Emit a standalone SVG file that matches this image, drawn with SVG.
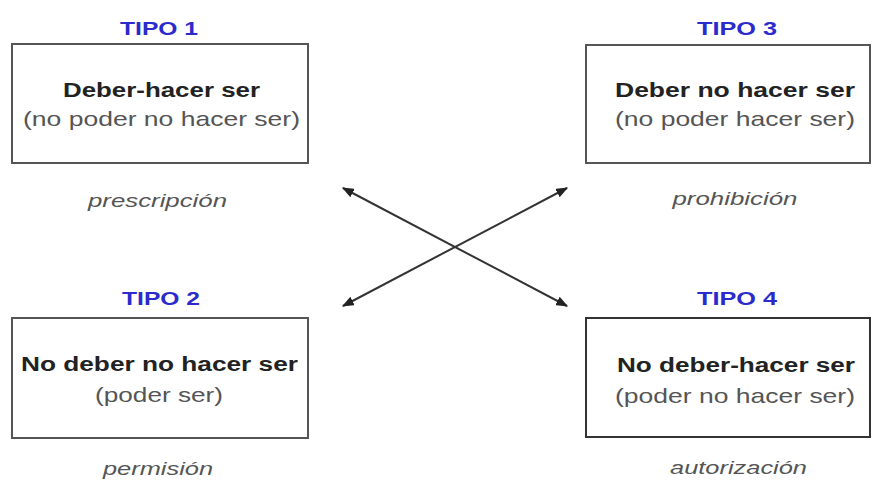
<svg xmlns="http://www.w3.org/2000/svg" width="873" height="483" viewBox="0 0 873 483">
<defs>
<style>
.box{fill:#fff;stroke:#555;stroke-width:2}
.tipo{font-family:"Liberation Sans",Arial,sans-serif;font-weight:bold;font-size:18px;fill:#2b2bcc;text-anchor:middle}
.main{font-family:"Liberation Sans",Arial,sans-serif;font-weight:bold;font-size:20px;fill:#222;text-anchor:middle}
.sub{font-family:"Liberation Sans",Arial,sans-serif;font-size:21px;fill:#555;text-anchor:middle}
.lab{font-family:"Liberation Sans",Arial,sans-serif;font-style:italic;font-size:19px;fill:#555;text-anchor:middle}
.conn{stroke:#333;stroke-width:2;fill:none;marker-start:url(#ah);marker-end:url(#ah)}
</style>
<marker id="ah" viewBox="0 0 10 8" refX="9" refY="4" markerWidth="6" markerHeight="4.8" orient="auto-start-reverse">
<path d="M0,0 L10,4 L0,8 Z" fill="#222"/>
</marker>
</defs>
<rect width="873" height="483" fill="#fff"/>
<g id="tipo1">
<text class="tipo" x="159" y="35" textLength="78" lengthAdjust="spacingAndGlyphs">TIPO 1</text>
<rect class="box" x="12" y="44" width="296" height="119"/>
<text class="main" x="161.5" y="97" textLength="197" lengthAdjust="spacingAndGlyphs">Deber-hacer ser</text>
<text class="sub" x="161.5" y="126" textLength="277" lengthAdjust="spacingAndGlyphs">(no poder no hacer ser)</text>
<text class="lab" x="157.5" y="207" textLength="139" lengthAdjust="spacingAndGlyphs">prescripción</text>
</g>
<g id="tipo3">
<text class="tipo" x="737" y="35" textLength="80" lengthAdjust="spacingAndGlyphs">TIPO 3</text>
<rect class="box" x="586" y="45" width="284" height="118"/>
<text class="main" x="735" y="97" textLength="240" lengthAdjust="spacingAndGlyphs">Deber no hacer ser</text>
<text class="sub" x="735" y="126" textLength="240" lengthAdjust="spacingAndGlyphs">(no poder hacer ser)</text>
<text class="lab" x="735" y="205" textLength="125" lengthAdjust="spacingAndGlyphs">prohibición</text>
</g>
<g id="tipo2">
<text class="tipo" x="161" y="305" textLength="78" lengthAdjust="spacingAndGlyphs">TIPO 2</text>
<rect class="box" x="12" y="318" width="296" height="120"/>
<text class="main" x="159.5" y="371" textLength="277" lengthAdjust="spacingAndGlyphs">No deber no hacer ser</text>
<text class="sub" x="159" y="402" textLength="128" lengthAdjust="spacingAndGlyphs">(poder ser)</text>
<text class="lab" x="158" y="475" textLength="110" lengthAdjust="spacingAndGlyphs">permisión</text>
</g>
<g id="tipo4">
<text class="tipo" x="737" y="305" textLength="80" lengthAdjust="spacingAndGlyphs">TIPO 4</text>
<rect class="box" x="586" y="318" width="284" height="119" style="stroke:#333"/>
<text class="main" x="736" y="372" textLength="238" lengthAdjust="spacingAndGlyphs">No deber-hacer ser</text>
<text class="sub" x="735" y="403" textLength="240" lengthAdjust="spacingAndGlyphs">(poder no hacer ser)</text>
<text class="lab" x="738.5" y="474" textLength="137" lengthAdjust="spacingAndGlyphs">autorización</text>
</g>
<g id="connectors">
<line class="conn" x1="343" y1="188" x2="567" y2="306"/>
<line class="conn" x1="567" y1="188" x2="343" y2="306"/>
</g>
</svg>
